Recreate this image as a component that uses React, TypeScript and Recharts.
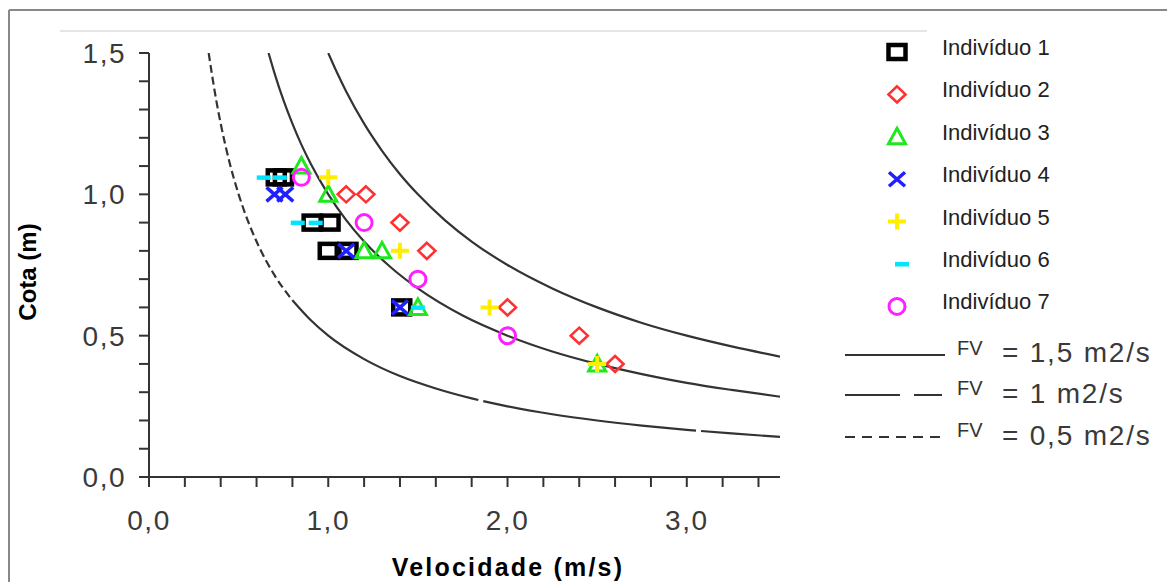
import React from "react";
import { ScatterChart, Scatter, XAxis, YAxis } from "recharts";

// ---- data (velocidade m/s, cota m) ----
const ind1: number[][] = [[0.71, 1.06], [0.75, 1.06], [0.91, 0.9], [1.01, 0.9], [1.0, 0.8], [1.11, 0.8], [1.41, 0.6]];
const ind2: number[][] = [[1.1, 1.0], [1.21, 1.0], [1.4, 0.9], [1.55, 0.8], [2.0, 0.6], [2.4, 0.5], [2.6, 0.4]];
const ind3: number[][] = [[0.85, 1.1], [1.0, 1.0], [1.2, 0.8], [1.3, 0.8], [1.5, 0.6], [2.5, 0.4]];
const ind4: number[][] = [[0.7, 1.0], [0.76, 1.0], [1.1, 0.8], [1.4, 0.6]];
const ind5: number[][] = [[1.0, 1.06], [1.4, 0.8], [1.9, 0.6], [2.5, 0.4]];
const ind6: number[][] = [[0.64, 1.06], [0.73, 1.06], [0.83, 0.9], [0.93, 0.9], [1.5, 0.6]];
const ind7: number[][] = [[0.85, 1.06], [1.2, 0.9], [1.5, 0.7], [2.0, 0.5]];

const seriesNames = ["Indivíduo 1", "Indivíduo 2", "Indivíduo 3", "Indivíduo 4", "Indivíduo 5", "Indivíduo 6", "Indivíduo 7"];
const seriesColors = ["#000000", "#ff3030", "#1ee81e", "#2020ff", "#ffee00", "#00e5ff", "#ff20ff"];
const seriesKinds = ["square", "diamond", "triangle", "x", "plus", "dash", "circle"];
const seriesData = [ind1, ind2, ind3, ind4, ind5, ind6, ind7];

// FV curves (v, h)
const fv15V = [1.0, 1.05, 1.1, 1.2, 1.3, 1.4, 1.5, 1.65, 1.8, 2.0, 2.25, 2.5, 2.75, 3.0, 3.25, 3.52];
const fv15H = [1.5, 1.429, 1.364, 1.25, 1.154, 1.071, 1.0, 0.909, 0.833, 0.75, 0.667, 0.6, 0.545, 0.5, 0.462, 0.426];
const fv10V = [0.667, 0.7, 0.75, 0.8, 0.85, 0.9, 1.0, 1.1, 1.2, 1.35, 1.5, 1.75, 2.0, 2.25, 2.5, 2.75, 3.0, 3.25, 3.52];
const fv10H = [1.5, 1.429, 1.333, 1.25, 1.176, 1.111, 1.0, 0.909, 0.833, 0.741, 0.667, 0.571, 0.5, 0.444, 0.4, 0.364, 0.333, 0.308, 0.284];
const fv05aV = [0.333, 0.35, 0.375, 0.4, 0.45, 0.5, 0.55, 0.6, 0.7, 0.8];
const fv05aH = [1.5, 1.429, 1.333, 1.25, 1.111, 1.0, 0.909, 0.833, 0.714, 0.625];
const fv05bV = [0.8, 0.9, 1.0, 1.2, 1.4, 1.6, 1.8, 2.0, 2.25, 2.5, 2.75, 3.0, 3.25, 3.52];
const fv05bH = [0.625, 0.556, 0.5, 0.417, 0.357, 0.313, 0.278, 0.25, 0.222, 0.2, 0.182, 0.167, 0.154, 0.142];

const xTicks = [0, 0.2, 0.4, 0.6, 0.8, 1.0, 1.2, 1.4, 1.6, 1.8, 2.0, 2.2, 2.4, 2.6, 2.8, 3.0, 3.2, 3.4];
const yTicks = [0, 0.1, 0.2, 0.3, 0.4, 0.5, 0.6, 0.7, 0.8, 0.9, 1.0, 1.1, 1.2, 1.3, 1.4, 1.5];

const fvLabels = ["= 1,5 m2/s", "= 1 m2/s", "= 0,5 m2/s"];
const fvDash = ["none", "55 14 28", "10 7"];

const pairs = (a: number[][]) => a.map(([v, h]) => ({ v, h }));
const zip = (vs: number[], hs: number[]) => vs.map((v, i) => ({ v, h: hs[i] }));

const FONT = "'Liberation Sans', Arial, sans-serif";
const INK = "#3a3a3a";
const LINE = "#333";

function Marker({ kind, cx, cy, color }: { kind: string; cx: number; cy: number; color: string }) {
  switch (kind) {
    case "square":
      return <rect x={cx - 8.5} y={cy - 7} width={17} height={14} fill="none" stroke={color} strokeWidth={4.5} />;
    case "diamond":
      return <path d={`M${cx},${cy - 8} L${cx + 8.5},${cy} L${cx},${cy + 8} L${cx - 8.5},${cy} Z`} fill="none" stroke={color} strokeWidth={2.6} />;
    case "triangle":
      return <path d={`M${cx},${cy - 8.5} L${cx + 8.5},${cy + 7} L${cx - 8.5},${cy + 7} Z`} fill="none" stroke={color} strokeWidth={3} />;
    case "x":
      return <path d={`M${cx - 8},${cy - 7} L${cx + 8},${cy + 7} M${cx - 8},${cy + 7} L${cx + 8},${cy - 7}`} stroke={color} strokeWidth={3.5} />;
    case "plus":
      return <path d={`M${cx - 9},${cy} L${cx + 9},${cy} M${cx},${cy - 8} L${cx},${cy + 8}`} stroke={color} strokeWidth={4} />;
    case "dash":
      return <rect x={cx - 7} y={cy - 2} width={14} height={4.5} fill={color} />;
    case "circle":
      return <circle cx={cx} cy={cy} r={8} fill="none" stroke={color} strokeWidth={3} />;
    default:
      return <g />;
  }
}

const fmt = (v: number) => v.toFixed(1).replace(".", ",");

const XTick = (props: any) => {
  const { x, y, payload } = props;
  const v = payload.value;
  if (Math.abs(v - Math.round(v)) > 1e-6) return <g />;
  return (
    <text x={x} y={y} dy={41} textAnchor="middle" fontFamily={FONT} fontSize={28} letterSpacing={1.5} fill={INK}>
      {fmt(v)}
    </text>
  );
};

const YTick = (props: any) => {
  const { x, y, payload } = props;
  const v = payload.value;
  if (Math.abs(v * 2 - Math.round(v * 2)) > 1e-6) return <g />;
  return (
    <text x={x} y={y} dx={-11} dy={10} textAnchor="end" fontFamily={FONT} fontSize={28} letterSpacing={1.5} fill={INK}>
      {fmt(v)}
    </text>
  );
};

function Overlay() {
  const rowY = (i: number) => 47 + i * 42.4;
  return (
    <svg width={1167} height={582} style={{ position: "absolute", left: 0, top: 0, pointerEvents: "none" }}>
      <line x1={9} y1={10} x2={1167} y2={10} stroke="#888" strokeWidth={2} />
      <line x1={9} y1={10} x2={9} y2={582} stroke="#888" strokeWidth={2} />
      <line x1={60} y1={31} x2={927} y2={31} stroke="#ddd" strokeWidth={1.5} />
      {seriesNames.map((n, i) => (
        <g key={n}>
          <Marker kind={seriesKinds[i]} cx={seriesKinds[i] === "dash" ? 902 : 897} cy={rowY(i) + 5} color={seriesColors[i]} />
          <text x={942} y={rowY(i) + 8} fontFamily={FONT} fontSize={22} fill="#222">
            {n}
          </text>
        </g>
      ))}
      {fvLabels.map((t, i) => {
        const ly = [355, 395, 437][i];
        const by = [362, 403, 445][i];
        return (
          <g key={t}>
            <line x1={845} y1={ly} x2={945} y2={ly} stroke={LINE} strokeWidth={2} strokeDasharray={fvDash[i]} />
            <text x={957} y={ly} fontFamily={FONT} fontSize={20} fill="#333">FV</text>
            <text x={1002} y={by} fontFamily={FONT} fontSize={28} letterSpacing={1.8} fill={INK}>{t}</text>
          </g>
        );
      })}
      <text x={508} y={576} textAnchor="middle" fontFamily={FONT} fontWeight="bold" fontSize={25} letterSpacing={2.2} fill="#000">
        Velocidade (m/s)
      </text>
      <text x={0} y={0} transform="translate(36,272) rotate(-90)" textAnchor="middle" fontFamily={FONT} fontWeight="bold" fontSize={24} fill="#000">
        Cota (m)
      </text>
    </svg>
  );
}

export default function App() {
  const noShape = () => <g />;
  return (
    <div style={{ position: "absolute", left: 0, top: 0, width: 1167, height: 582, background: "#fff" }}>
      <ScatterChart width={1167} height={582} margin={{ top: 53, right: 387, bottom: 45, left: 89 }}>
        <XAxis
          type="number"
          dataKey="v"
          domain={[0, 3.52]}
          ticks={xTicks}
          interval={0}
          allowDataOverflow
          height={60}
          tickSize={10}
          tick={<XTick />}
          axisLine={{ stroke: LINE, strokeWidth: 2 }}
          tickLine={{ stroke: LINE, strokeWidth: 2 }}
        />
        <YAxis
          type="number"
          dataKey="h"
          domain={[0, 1.5]}
          ticks={yTicks}
          interval={0}
          allowDataOverflow
          width={60}
          tickSize={10}
          tick={<YTick />}
          axisLine={{ stroke: LINE, strokeWidth: 2 }}
          tickLine={{ stroke: LINE, strokeWidth: 2 }}
        />
        <Scatter data={zip(fv15V, fv15H)} line={{ stroke: LINE, strokeWidth: 2.2 }} lineJointType="monotoneX" shape={noShape} fill={LINE} isAnimationActive={false} />
        <Scatter data={zip(fv10V, fv10H)} line={{ stroke: LINE, strokeWidth: 2.2 }} lineJointType="monotoneX" shape={noShape} fill={LINE} isAnimationActive={false} />
        <Scatter data={zip(fv05aV, fv05aH)} line={{ stroke: LINE, strokeWidth: 2.2, strokeDasharray: "8 4" }} lineJointType="monotoneX" shape={noShape} fill={LINE} isAnimationActive={false} />
        <Scatter data={zip(fv05bV, fv05bH)} line={{ stroke: LINE, strokeWidth: 2.2, strokeDasharray: "215 5" }} lineJointType="monotoneX" shape={noShape} fill={LINE} isAnimationActive={false} />
        {seriesData.map((d, i) => (
          <Scatter
            key={seriesNames[i]}
            name={seriesNames[i]}
            data={pairs(d)}
            fill={seriesColors[i]}
            isAnimationActive={false}
            shape={(p: any) => <Marker kind={seriesKinds[i]} cx={p.cx} cy={p.cy} color={seriesColors[i]} />}
          />
        ))}
      </ScatterChart>
      <Overlay />
    </div>
  );
}
